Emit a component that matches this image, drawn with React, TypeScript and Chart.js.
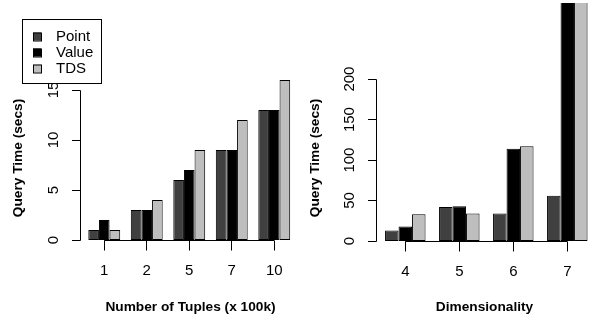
import React, { useEffect, useRef } from 'react';
import { Chart, registerables } from 'chart.js';

Chart.register(...registerables);

const FONT = '"Liberation Sans", Arial, Helvetica, sans-serif';

const seriesNames = ['Point', 'Value', 'TDS'];
const seriesColors = ['#404040', '#000000', '#BEBEBE'];

// Left panel: Number of Tuples (x 100k)
const tupleCategories = ['1', '2', '5', '7', '10'];
const tuplePoint = [1, 3, 6, 9, 13];
const tupleValue = [2, 3, 7, 9, 13];
const tupleTDS = [1, 4, 9, 12, 16];
const tupleYTicks = [0, 5, 10, 15];

// Right panel: Dimensionality
const dimCategories = ['4', '5', '6', '7'];
const dimPoint = [13, 42, 34, 56];
const dimValue = [18, 43, 114, 320];
const dimTDS = [33, 34, 117, 340];
const dimYTicks = [0, 50, 100, 150, 200];

type PanelProps = {
  left: number;
  width: number;
  categories: string[];
  series: number[][];
  yMax: number;
  yTicks: number[];
  padding: { left: number; right: number; top: number; bottom: number };
  axisX: number;
  xTitle: string;
  xTitleX: number;
  showLegend: boolean;
};

function makePlugin(p: PanelProps) {
  return {
    id: 'rStyleAxes',
    afterDraw(chart: any) {
      const ctx = chart.ctx as CanvasRenderingContext2D;
      const xs = chart.scales.x;
      const ys = chart.scales.y;
      ctx.save();
      ctx.strokeStyle = '#000';
      ctx.fillStyle = '#000';
      ctx.lineWidth = 1;
      const snap = (v: number) => Math.floor(v) + 0.5;

      // Y axis
      const yTop = snap(ys.getPixelForValue(p.yTicks[p.yTicks.length - 1]));
      const yBot = snap(ys.getPixelForValue(p.yTicks[0]));
      const ax = snap(p.axisX);
      ctx.beginPath();
      ctx.moveTo(ax, yTop);
      ctx.lineTo(ax, yBot);
      p.yTicks.forEach((t) => {
        const py = snap(ys.getPixelForValue(t));
        ctx.moveTo(ax, py);
        ctx.lineTo(ax - 8.5, py);
      });
      ctx.stroke();
      ctx.font = '15px ' + FONT;
      ctx.textAlign = 'center';
      ctx.textBaseline = 'middle';
      p.yTicks.forEach((t) => {
        const py = ys.getPixelForValue(t);
        ctx.save();
        ctx.translate(ax - 27, py);
        ctx.rotate(-Math.PI / 2);
        ctx.fillText(String(t), 0, 0);
        ctx.restore();
      });

      // X axis
      const y0 = snap(ys.getPixelForValue(0));
      const n = p.categories.length;
      const x1 = xs.getPixelForValue(0);
      const x2 = xs.getPixelForValue(n - 1);
      ctx.beginPath();
      ctx.moveTo(x1, y0);
      ctx.lineTo(x2, y0);
      for (let i = 0; i < n; i++) {
        const px = snap(xs.getPixelForValue(i));
        ctx.moveTo(px, y0);
        ctx.lineTo(px, y0 + 10);
      }
      ctx.stroke();
      for (let i = 0; i < n; i++) {
        const px = xs.getPixelForValue(i);
        ctx.fillText(p.categories[i], px, y0 + 30);
      }

      // Titles
      ctx.font = 'bold 13.7px ' + FONT;
      ctx.fillText(p.xTitle, p.xTitleX, 307);
      ctx.save();
      ctx.translate(18.5, 158);
      ctx.rotate(-Math.PI / 2);
      ctx.fillText('Query Time (secs)', 0, 0);
      ctx.restore();

      // Legend
      if (p.showLegend) {
        ctx.fillStyle = '#fff';
        ctx.fillRect(22, 19, 79, 64);
        ctx.strokeRect(22.5, 19.5, 79, 64);
        ctx.font = '15px ' + FONT;
        ctx.textAlign = 'left';
        const rowY = [36.5, 52.5, 68.5];
        seriesNames.forEach((name, i) => {
          ctx.fillStyle = seriesColors[i];
          ctx.fillRect(33, rowY[i] - 4, 8, 8);
          ctx.strokeRect(33.5, rowY[i] - 3.5, 8, 8);
          ctx.fillStyle = '#000';
          ctx.fillText(name, 56, rowY[i]);
        });
      }
      ctx.restore();
    },
  };
}

function Panel(p: PanelProps) {
  const ref = useRef<HTMLCanvasElement>(null);
  useEffect(() => {
    if (!ref.current) return;
    const chart = new Chart(ref.current, {
      type: 'bar',
      data: {
        labels: p.categories,
        datasets: p.series.map((vals, i) => ({
          label: seriesNames[i],
          data: vals,
          backgroundColor: seriesColors[i],
          borderColor: '#000',
          borderWidth: 1,
          borderSkipped: false,
          categoryPercentage: 0.75,
          barPercentage: 1,
          clip: { left: 10, right: 10, top: 0, bottom: 10 },
        })),
      },
      options: {
        responsive: false,
        animation: false,
        devicePixelRatio: 1,
        layout: { padding: p.padding },
        plugins: { legend: { display: false }, tooltip: { enabled: false } },
        scales: {
          x: { display: false, offset: true, grid: { display: false } },
          y: { display: false, min: 0, max: p.yMax, grid: { display: false } },
        },
      },
      plugins: [makePlugin(p)],
    });
    return () => chart.destroy();
  }, []);
  return (
    <canvas
      ref={ref}
      width={p.width}
      height={322}
      style={{ position: 'absolute', left: p.left, top: 0, width: p.width, height: 322 }}
    />
  );
}

export default function App() {
  return (
    <div style={{ position: 'absolute', left: 0, top: 0, width: 595, height: 322, background: '#fff' }}>
      <Panel
        left={0}
        width={297}
        categories={tupleCategories}
        series={[tuplePoint, tupleValue, tupleTDS]}
        yMax={16}
        yTicks={tupleYTicks}
        padding={{ left: 83, right: 1.5, top: 80, bottom: 82 }}
        axisX={80}
        xTitle="Number of Tuples (x 100k)"
        xTitleX={190.5}
        showLegend={true}
      />
      <Panel
        left={297}
        width={298}
        categories={dimCategories}
        series={[dimPoint, dimValue, dimTDS]}
        yMax={294}
        yTicks={dimYTicks}
        padding={{ left: 81.3, right: 0.7, top: 3, bottom: 81 }}
        axisX={79.7}
        xTitle="Dimensionality"
        xTitleX={187.5}
        showLegend={false}
      />
    </div>
  );
}
